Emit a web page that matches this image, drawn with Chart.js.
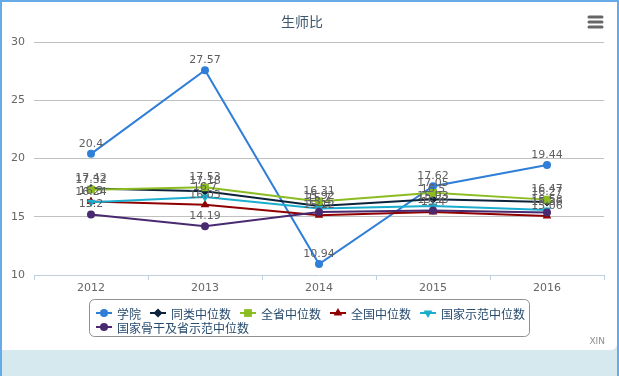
<!DOCTYPE html>
<html>
<head>
<meta charset="utf-8">
<script src="https://cdn.jsdelivr.net/npm/chart.js@4/dist/chart.umd.min.js"></script>
<style>
  html, body { margin: 0; padding: 0; width: 619px; height: 376px; overflow: hidden; background: #d6e9ef; }
  #frame { position: absolute; left: 0; top: 0; width: 615px; height: 374px; border: 2px solid #66abe8; border-bottom: none; }
  #card { position: absolute; left: 2px; top: 2px; width: 615px; height: 348px; background: #fff; border-bottom-right-radius: 6px; }
  #wrap { position: absolute; left: 0; top: 0; width: 619px; height: 376px; }
</style>
</head>
<body>
<div id="frame"></div>
<div id="card"></div>
<div id="wrap"><canvas id="ratioChart" width="619" height="376"></canvas></div>
<script>
// 生师比 — data
const years = ["2012", "2013", "2014", "2015", "2016"];
const seriesNames = ["学院", "同类中位数", "全省中位数", "全国中位数", "国家示范中位数", "国家骨干及省示范中位数"];

const xueyuan   = [20.4, 27.57, 10.94, 17.62, 19.44];
const tonglei   = [17.42, 17.18, 15.92, 16.5, 16.27];
const quansheng = [17.32, 17.53, 16.31, 17.05, 16.47];
const quanguo   = [16.3, 16.03, 15.12, 15.4, 15.06];
const shifan    = [16.24, 16.7, 15.7, 15.93, 15.58];
const gugan     = [15.2, 14.19, 15.4, 15.53, 15.36];

const yTicks = { min: 10, max: 30, step: 5 };

// series look (Highcharts-ish defaults)
const looks = [
  { color: "#2f7ed8", style: "circle", r: 4, rot: 0 },
  { color: "#0d233a", style: "rectRot", r: 4.5, rot: 0 },
  { color: "#8bbc21", style: "rect", r: 5.5, rot: 0 },
  { color: "#910000", style: "triangle", r: 5, rot: 0 },
  { color: "#1aadce", style: "triangle", r: 5, rot: 180 },
  { color: "#492970", style: "circle", r: 4, rot: 0 }
];
const allData = [xueyuan, tonglei, quansheng, quanguo, shifan, gugan];

const FONT_NUM = '"DejaVu Sans", Verdana, sans-serif';
const FONT_CJK = '"Noto Sans CJK SC", sans-serif';

function drawMarker(ctx, look, x, y) {
  const opts = { pointStyle: look.style, radius: look.r, rotation: look.rot, borderWidth: 0 };
  ctx.fillStyle = look.color;
  ctx.strokeStyle = look.color;
  Chart.helpers.drawPoint(ctx, opts, x, y);
}

// ✅ value labels above every point
const pointLabels = {
  id: "pointLabels",
  afterDatasetsDraw(chart) {
    const ctx = chart.ctx;
    ctx.save();
    ctx.font = "11px " + FONT_NUM;
    ctx.fillStyle = "#606060";
    ctx.textAlign = "center";
    ctx.textBaseline = "middle";
    chart.data.datasets.forEach((ds, i) => {
      chart.getDatasetMeta(i).data.forEach((pt, j) => {
        ctx.fillText(String(ds.data[j]), pt.x, pt.y - 10);
      });
    });
    ctx.restore();
  }
};

// ✅ boxed legend + menu icon + credit
const boxLegend = {
  id: "boxLegend",
  afterDraw(chart) {
    const ctx = chart.ctx;
    ctx.save();
    const boxL = 89, boxR = 529, boxT = 299, boxB = 336;
    ctx.strokeStyle = "#909090";
    ctx.lineWidth = 1;
    ctx.beginPath();
    ctx.roundRect(boxL + 0.5, boxT + 0.5, boxR - boxL, boxB - boxT, 5);
    ctx.stroke();

    ctx.font = "12px " + FONT_CJK;
    ctx.textBaseline = "middle";
    ctx.textAlign = "left";
    let x = boxL + 7, y = 313;
    seriesNames.forEach((name, i) => {
      const w = 21 + ctx.measureText(name).width;
      if (x + w > boxR + 1) { x = boxL + 7; y += 14; }
      const look = looks[i];
      ctx.strokeStyle = look.color;
      ctx.lineWidth = 2;
      ctx.beginPath();
      ctx.moveTo(x, y);
      ctx.lineTo(x + 16, y);
      ctx.stroke();
      drawMarker(ctx, look, x + 8, y);
      ctx.fillStyle = "#274b6d";
      ctx.fillText(name, x + 21, y + 1);
      x += w + 9;
    });

    // menu icon
    ctx.strokeStyle = "#666";
    ctx.lineWidth = 3;
    ctx.lineCap = "round";
    [17, 22, 27].forEach(yy => {
      ctx.beginPath();
      ctx.moveTo(589, yy);
      ctx.lineTo(602, yy);
      ctx.stroke();
    });

    // credit
    ctx.font = "9px " + FONT_NUM;
    ctx.fillStyle = "#909090";
    ctx.textAlign = "right";
    ctx.fillText("XIN", 605, 342);
    ctx.restore();
  }
};

new Chart(document.getElementById("ratioChart"), {
  type: "line",
  data: {
    labels: years,
    datasets: allData.map((d, i) => ({
      label: seriesNames[i],
      data: d,
      order: -i,
      borderColor: looks[i].color,
      backgroundColor: looks[i].color,
      borderWidth: 2,
      tension: 0,
      fill: false,
      pointStyle: looks[i].style,
      pointRadius: looks[i].r,
      pointRotation: looks[i].rot,
      pointBorderWidth: 0,
      pointBackgroundColor: looks[i].color
    }))
  },
  options: {
    responsive: false,
    animation: false,
    layout: { padding: { left: 0, right: 15, top: 0, bottom: 81 } },
    plugins: {
      legend: { display: false },
      tooltip: { enabled: false },
      title: {
        display: true,
        text: "生师比",
        color: "#3e576f",
        font: { family: FONT_CJK, size: 14, weight: "normal" },
        padding: { top: 13, bottom: 12.2 }
      }
    },
    scales: {
      x: {
        offset: true,
        afterFit: s => { s.height = 20; },
        grid: { offset: true, drawOnChartArea: false, drawTicks: true, tickLength: 5, color: "#c0d0e0" },
        border: { display: true, color: "#c0d0e0" },
        ticks: { color: "#666", padding: 2, font: { family: FONT_NUM, size: 11 } }
      },
      y: {
        min: yTicks.min,
        max: yTicks.max,
        afterFit: s => { s.width = 34; },
        grid: { drawTicks: false, color: c => c.tick.value === yTicks.min ? "rgba(0,0,0,0)" : "#c0c0c0" },
        border: { display: false },
        ticks: { stepSize: yTicks.step, color: "#666", padding: 9, font: { family: FONT_NUM, size: 11 } }
      }
    }
  },
  plugins: [pointLabels, boxLegend]
});
</script>
</body>
</html>
